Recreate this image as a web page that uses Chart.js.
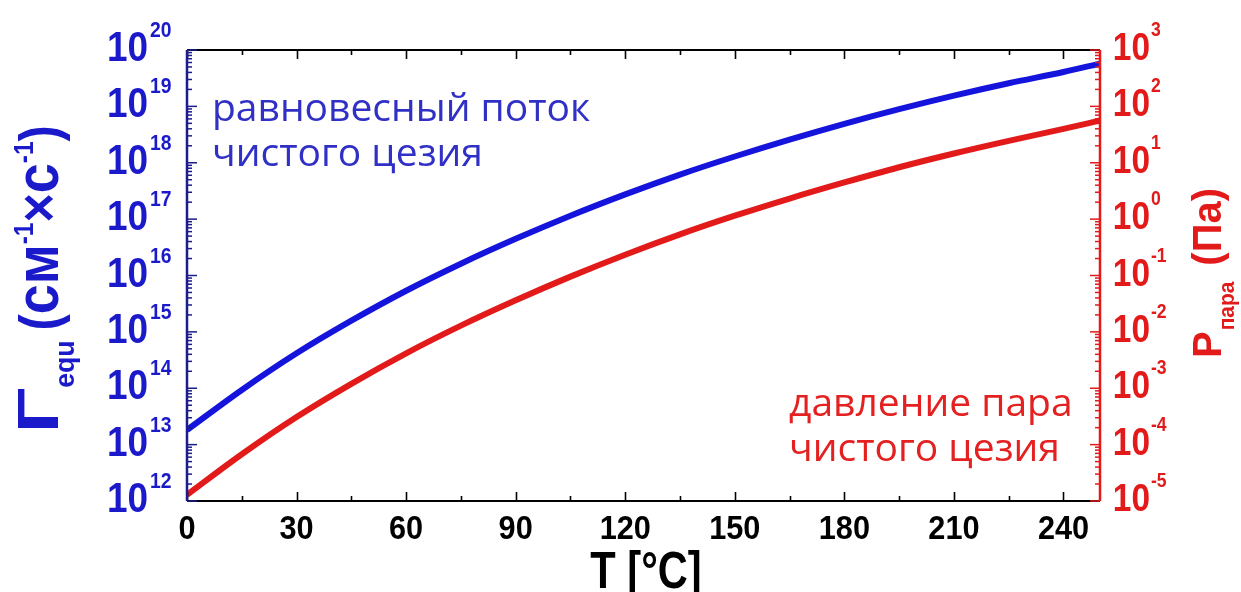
<!DOCTYPE html>
<html>
<head>
<meta charset="utf-8">
<script src="https://cdn.jsdelivr.net/npm/chart.js@4.4.1/dist/chart.umd.min.js"></script>
<style>
  html, body { margin: 0; padding: 0; background: #ffffff; }
  canvas { display: block; }
</style>
</head>
<body>
<canvas id="chart" width="1241" height="592"></canvas>
<script>
// Temperature grid, °C
const temperatures = [0, 15, 30, 45, 60, 75, 90, 105, 120, 135, 150, 165, 180, 195, 210, 225, 240, 250];

// Equilibrium flux of pure caesium, cm^-1·s^-1
const fluxValues = [1.82e13, 9.33e13, 4.17e14, 1.58e15, 5.37e15, 1.62e16, 4.47e16, 1.15e17, 2.75e17,
                    6.17e17, 1.29e18, 2.57e18, 4.9e18, 8.91e18, 1.55e19, 2.57e19, 4.07e19, 5.75e19];

// Vapour pressure of pure caesium, Pa
const pressureValues = [1.29e-5, 6.76e-5, 3.09e-4, 1.2e-3, 4.17e-3, 1.29e-2, 3.63e-2, 9.55e-2, 0.234,
                        0.537, 1.15, 2.32, 4.47, 8.32, 14.6, 24.5, 39.8, 56.2];

// Axis ticks
const xTickValues = [0, 30, 60, 90, 120, 150, 180, 210, 240];
const xTickLabels = ['0', '30', '60', '90', '120', '150', '180', '210', '240'];
const xMinorValues = [15, 45, 75, 105, 135, 165, 195, 225];
const fluxExponents = [12, 13, 14, 15, 16, 17, 18, 19, 20];
const pressureExponents = [-5, -4, -3, -2, -1, 0, 1, 2, 3];

const BLUE = '#1414dc';
const BLUE_TEXT = '#1a1acb';
const RED = '#e21a1a';
const NAVY = '#1c1c8c';

// Rotated (bottom-to-top) text made of runs with their own size, offset and stretch
function drawRotatedRich(ctx, baseX, startY, parts, color) {
  ctx.save();
  ctx.translate(baseX, startY);
  ctx.rotate(-Math.PI / 2);
  ctx.fillStyle = color;
  ctx.textBaseline = 'alphabetic';
  ctx.textAlign = 'left';
  let pos = 0;
  for (const p of parts) {
    const sx = p.sx || 1;
    ctx.font = 'bold ' + p.size + 'px "Liberation Sans", Arial, sans-serif';
    ctx.save();
    ctx.translate(pos, p.dy || 0);
    ctx.scale(sx, 1);
    ctx.fillText(p.t, 0, 0);
    ctx.restore();
    pos += ctx.measureText(p.t).width * sx + (p.gap || 0);
  }
  ctx.restore();
}

function drawPower(ctx, rightX, y, exponent, color, bigSize, smallSize, squeeze, supGap) {
  ctx.save();
  ctx.fillStyle = color;
  ctx.textBaseline = 'alphabetic';
  ctx.textAlign = 'left';
  ctx.font = 'bold ' + bigSize + 'px "Liberation Sans", Arial, sans-serif';
  const w = ctx.measureText('10').width * squeeze;
  ctx.save();
  ctx.translate(rightX - w, y + 13);
  ctx.scale(squeeze, 1);
  ctx.fillText('10', 0, 0);
  ctx.restore();
  ctx.font = 'bold ' + smallSize + 'px "Liberation Sans", Arial, sans-serif';
  ctx.save();
  ctx.translate(rightX + supGap, y - 11);
  ctx.scale(squeeze, 1);
  ctx.fillText(String(exponent), 0, 0);
  ctx.restore();
  ctx.restore();
}

const framePlugin = {
  id: 'framePlugin',
  afterDatasetsDraw(chart) {
    const { ctx, chartArea: a, scales } = chart;
    const xs = scales.x, yl = scales.yFlux, yr = scales.yPressure;
    ctx.save();
    ctx.lineCap = 'butt';

    // top and bottom axes with inward ticks
    ctx.strokeStyle = '#000000';
    ctx.lineWidth = 1.6;
    for (const v of xTickValues) {
      const px = Math.round(xs.getPixelForValue(v)) + 0.5;
      ctx.beginPath();
      ctx.moveTo(px, a.bottom); ctx.lineTo(px, a.bottom - 9);
      ctx.moveTo(px, a.top); ctx.lineTo(px, a.top + 9);
      ctx.stroke();
    }
    for (const v of xMinorValues) {
      const px = Math.round(xs.getPixelForValue(v)) + 0.5;
      ctx.beginPath();
      ctx.moveTo(px, a.bottom); ctx.lineTo(px, a.bottom - 5);
      ctx.moveTo(px, a.top); ctx.lineTo(px, a.top + 5);
      ctx.stroke();
    }
    ctx.lineWidth = 2;
    ctx.beginPath();
    ctx.moveTo(a.left, a.top); ctx.lineTo(a.right, a.top);
    ctx.moveTo(a.left, a.bottom); ctx.lineTo(a.right, a.bottom);
    ctx.stroke();

    // left logarithmic axis
    ctx.strokeStyle = NAVY;
    ctx.lineWidth = 1.5;
    for (let i = 0; i < fluxExponents.length; i++) {
      const n = fluxExponents[i];
      const py = yl.getPixelForValue(Math.pow(10, n));
      ctx.beginPath(); ctx.moveTo(a.left, py); ctx.lineTo(a.left + 10, py); ctx.stroke();
      if (i < fluxExponents.length - 1) {
        for (let k = 2; k <= 9; k++) {
          const my = yl.getPixelForValue(k * Math.pow(10, n));
          ctx.beginPath(); ctx.moveTo(a.left, my); ctx.lineTo(a.left + 5, my); ctx.stroke();
        }
      }
    }
    ctx.lineWidth = 2.5;
    ctx.beginPath(); ctx.moveTo(a.left, a.top); ctx.lineTo(a.left, a.bottom); ctx.stroke();

    // right logarithmic axis
    ctx.strokeStyle = RED;
    ctx.lineWidth = 1.5;
    for (let i = 0; i < pressureExponents.length; i++) {
      const n = pressureExponents[i];
      const py = yr.getPixelForValue(Math.pow(10, n));
      ctx.beginPath(); ctx.moveTo(a.right, py); ctx.lineTo(a.right - 10, py); ctx.stroke();
      if (i < pressureExponents.length - 1) {
        for (let k = 2; k <= 9; k++) {
          const my = yr.getPixelForValue(k * Math.pow(10, n));
          ctx.beginPath(); ctx.moveTo(a.right, my); ctx.lineTo(a.right - 5, my); ctx.stroke();
        }
      }
    }
    ctx.lineWidth = 2.5;
    ctx.beginPath(); ctx.moveTo(a.right, a.top); ctx.lineTo(a.right, a.bottom); ctx.stroke();

    // x tick labels
    ctx.fillStyle = '#000000';
    ctx.font = 'bold 33px "Liberation Sans", Arial, sans-serif';
    ctx.textAlign = 'center';
    ctx.textBaseline = 'alphabetic';
    xTickValues.forEach((v, i) => {
      const px = xs.getPixelForValue(v);
      ctx.save();
      ctx.translate(px, 539);
      ctx.scale(0.93, 1);
      ctx.fillText(xTickLabels[i], 0, 0);
      ctx.restore();
    });

    // x title
    ctx.save();
    ctx.font = 'bold 52px "Liberation Sans", Arial, sans-serif';
    ctx.translate(646, 588);
    ctx.scale(0.8, 1);
    ctx.fillText('T [°C]', 0, 0);
    ctx.restore();

    // left tick labels
    fluxExponents.forEach(n => {
      const py = yl.getPixelForValue(Math.pow(10, n));
      drawPower(ctx, 148, py - 2, n, BLUE_TEXT, 42, 22, 0.88, 2);
    });

    // right tick labels
    pressureExponents.forEach(n => {
      const py = yr.getPixelForValue(Math.pow(10, n));
      drawPower(ctx, 1150, py - 3, n, RED, 38, 20, 0.88, 1);
    });

    // left axis title
    drawRotatedRich(ctx, 58, 433, [
      { t: 'Γ', size: 58, sx: 1.3 },
      { t: 'equ', size: 28, dy: 16, gap: 10, sx: 0.95 },
      { t: '(', size: 56, sx: 0.87 },
      { t: 'см', size: 62, sx: 0.87 },
      { t: '-1', size: 28, dy: -25, sx: 0.87 },
      { t: '×', size: 58, sx: 0.87 },
      { t: 'с', size: 62, sx: 0.87 },
      { t: '-1', size: 28, dy: -25, sx: 0.87 },
      { t: ')', size: 56, sx: 0.87 }
    ], BLUE_TEXT);

    // right axis title
    drawRotatedRich(ctx, 1221, 358, [
      { t: 'P', size: 40, gap: 1 },
      { t: 'пара', size: 22, dy: 13, gap: 16, sx: 0.95 },
      { t: '(Па)', size: 40 }
    ], RED);

    // curve annotations
    ctx.textAlign = 'left';
    ctx.font = '39px "Open Sans", "Noto Sans", sans-serif';
    ctx.fillStyle = '#3030c6';
    ctx.fillText('равновесный поток', 212, 121);
    ctx.fillText('чистого цезия', 212, 166);
    ctx.fillStyle = '#e42020';
    ctx.fillText('давление пара', 789, 416);
    ctx.fillText('чистого цезия', 789, 461);

    ctx.restore();
  }
};

const fluxData = temperatures.map((t, i) => ({ x: t, y: fluxValues[i] }));
const pressureData = temperatures.map((t, i) => ({ x: t, y: pressureValues[i] }));

new Chart(document.getElementById('chart'), {
  type: 'line',
  data: {
    datasets: [
      {
        label: 'равновесный поток чистого цезия',
        data: fluxData,
        yAxisID: 'yFlux',
        borderColor: BLUE,
        borderWidth: 6,
        pointRadius: 0,
        cubicInterpolationMode: 'monotone',
        fill: false
      },
      {
        label: 'давление пара чистого цезия',
        data: pressureData,
        yAxisID: 'yPressure',
        borderColor: RED,
        borderWidth: 6,
        pointRadius: 0,
        cubicInterpolationMode: 'monotone',
        fill: false
      }
    ]
  },
  options: {
    responsive: false,
    animation: false,
    devicePixelRatio: 1,
    layout: { padding: { top: 50, left: 0, right: 0, bottom: 0 } },
    plugins: { legend: { display: false }, tooltip: { enabled: false } },
    scales: {
      x: {
        type: 'linear', min: 0, max: 250,
        grid: { display: false, drawTicks: false },
        border: { display: false },
        ticks: { display: false },
        afterFit: s => { s.height = 91; }
      },
      yFlux: {
        type: 'logarithmic', position: 'left', min: 1e12, max: 1e20,
        grid: { display: false, drawTicks: false },
        border: { display: false },
        ticks: { display: false },
        afterFit: s => { s.width = 187; }
      },
      yPressure: {
        type: 'logarithmic', position: 'right', min: 1e-5, max: 1e3,
        grid: { display: false, drawTicks: false },
        border: { display: false },
        ticks: { display: false },
        afterFit: s => { s.width = 141; }
      }
    }
  },
  plugins: [framePlugin]
});
</script>
</body>
</html>
